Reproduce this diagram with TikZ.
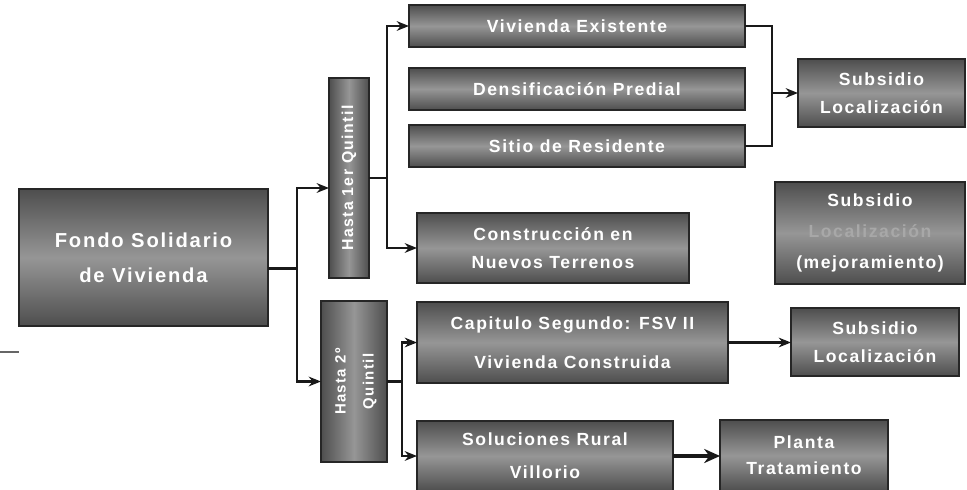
\documentclass[tikz,border=0pt]{standalone}
\usepackage{fontspec}
\setmainfont{Liberation Sans}[LetterSpace=9]
\usepackage{tikz}
\usetikzlibrary{arrows.meta}
\definecolor{boxdark}{HTML}{4E4E4E}
\definecolor{boxlight}{HTML}{969696}
\definecolor{boxfaint}{HTML}{A8A8A8}
\tikzset{box/.style={draw=black!85,line width=1.3pt,top color=boxdark,bottom color=boxdark,middle color=boxlight,text=white,inner sep=0pt,outer sep=0pt,align=center,font=\bfseries\fontsize{10}{16}\selectfont},
vbox/.style={box,left color=boxdark,right color=boxdark,middle color=boxlight},
link/.style={draw=black!90,line width=1.2pt}}
\begin{document}
\begin{tikzpicture}[x=0.02cm,y=-0.02cm,>={Stealth[length=7pt,width=5.5pt]}]
\useasboundingbox (0,0) rectangle (967,490);
\node[box,minimum width=4.98cm,minimum height=2.74cm,font=\bfseries\fontsize{11.5}{20}\selectfont] (fondo) at (143.5,257.5) {Fondo Solidario\\de Vivienda};
\node[vbox,minimum width=0.8cm,minimum height=4cm,font=\bfseries\fontsize{9}{16}\selectfont] (hastaA) at (349,178) {\rotatebox{90}{Hasta 1er Quintil}};
\node[vbox,minimum width=1.32cm,minimum height=3.22cm,font=\bfseries\fontsize{8.5}{16}\selectfont] (hastaB) at (354,381.5) {\rotatebox{90}{\begin{tabular}{@{}c@{}}Hasta 2º\\Quintil\end{tabular}}};
\node[box,minimum width=6.72cm,minimum height=0.84cm] (existente) at (577,26) {Vivienda Existente};
\node[box,minimum width=6.72cm,minimum height=0.84cm] (densif) at (577,89) {Densificación Predial};
\node[box,minimum width=6.72cm,minimum height=0.84cm] (sitio) at (577,146) {Sitio de Residente};
\node[box,minimum width=5.44cm,minimum height=1.4cm] (nuevos) at (553,248) {Construcción en\\Nuevos Terrenos};
\node[box,minimum width=6.22cm,minimum height=1.62cm,font=\bfseries\fontsize{10}{22.5}\selectfont] (capitulo) at (572.5,342.5) {Capitulo Segundo: FSV II\\Vivienda Construida};
\node[box,minimum width=5.12cm,minimum height=1.4cm,font=\bfseries\fontsize{10}{19}\selectfont] (rural) at (545,456) {Soluciones Rural\\Villorio};
\node[box,minimum width=3.36cm,minimum height=1.42cm,font=\bfseries\fontsize{10}{15}\selectfont] (planta) at (804,455.5) {Planta\\Tratamiento};
\node[box,minimum width=3.34cm,minimum height=1.36cm] (subsA) at (881.5,93) {Subsidio\\Localización};
\node[box,minimum width=3.8cm,minimum height=2.04cm,font=\bfseries\fontsize{10}{17.5}\selectfont] (subsB) at (870,233) {Subsidio\\\textcolor{boxfaint}{Localización}\\(mejoramiento)};
\node[box,minimum width=3.36cm,minimum height=1.36cm] (subsC) at (875,342) {Subsidio\\Localización};
\draw[link] ([yshift=-0.22cm]fondo.east) -- ++(29,0) coordinate (fj);
\draw[link,->] (fj) |- ([yshift=-0.2cm]hastaA.west);
\draw[link,->] (fj) |- (hastaB);
\draw[link] (hastaA.east) -- ++(18,0) coordinate (aj);
\draw[link,->] (aj) |- (existente);
\draw[link,->] (aj) |- (nuevos);
\coordinate (sj) at (772,93);
\draw[link] (existente) -| (sj) |- (sitio);
\draw[link,->] (sj) -- (subsA);
\draw[link] (hastaB.east) -- ++(15,0) coordinate (bj);
\draw[link,->] (bj) |- (capitulo);
\draw[link,->] (bj) |- (rural);
\draw[link,->] (capitulo.east) -- (capitulo.east -| subsC.west);
\draw[link,line width=2.4pt,-{Stealth[length=9pt,width=8pt]}] (rural.east) -- (rural.east -| planta.west);
\draw[black!60,line width=1pt] (0,352) -- (19,352);
\end{tikzpicture}
\end{document}
